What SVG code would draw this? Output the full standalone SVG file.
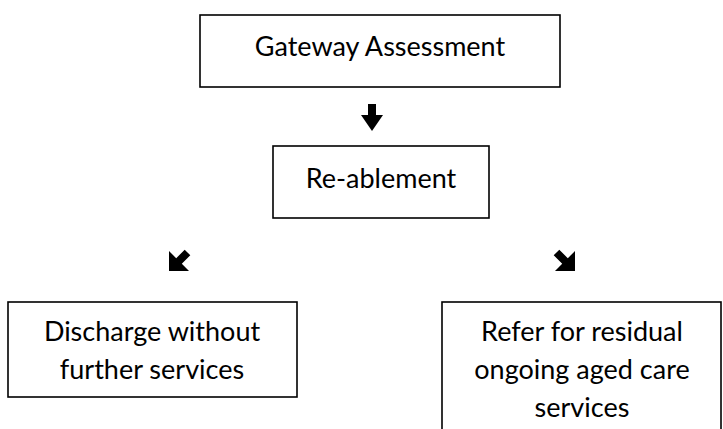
<svg xmlns="http://www.w3.org/2000/svg" width="723" height="429" viewBox="0 0 723 429">
<style>
.box{fill:#fff;stroke:#000;stroke-width:1.6}
.t{font-family:Lato,"Open Sans","Liberation Sans",sans-serif;font-size:27px;fill:#000;text-anchor:middle}
.arr{fill:#000}
</style>
<rect width="723" height="429" fill="#fff"/>
<g id="n1"><rect class="box" x="200" y="15" width="360" height="72"/><text class="t" x="380" y="56">Gateway Assessment</text></g>
<g id="n2"><rect class="box" x="273" y="146" width="216" height="72"/><text class="t" x="381" y="188">Re-ablement</text></g>
<g id="n3"><rect class="box" x="8" y="302" width="289" height="95"/><text class="t" x="152" y="341">Discharge without</text><text class="t" x="152" y="379">further services</text></g>
<g id="n4"><rect class="box" x="442" y="302" width="279" height="140"/><text class="t" x="582" y="341">Refer for residual</text><text class="t" x="582" y="379">ongoing aged care</text><text class="t" x="582" y="417">services</text></g>
<g id="connectors">
<polygon class="arr" points="368,104 376,104 376,115 383,115 372,131 361,115 368,115"/>
<polygon class="arr" points="169,271 169,251 176.2,258.2 184.7,249.7 190.3,255.3 181.8,263.8 189,271"/>
<polygon class="arr" points="575,271 575,251 567.8,258.2 559.3,249.7 553.7,255.3 562.2,263.8 555,271"/>
</g>
</svg>
